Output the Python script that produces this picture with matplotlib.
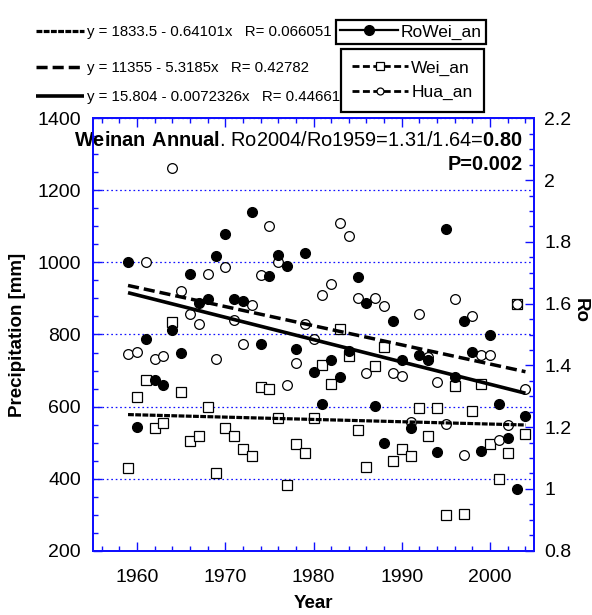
import matplotlib
matplotlib.use('Agg')
import matplotlib.pyplot as plt
from matplotlib.lines import Line2D
from matplotlib.ticker import MultipleLocator, FuncFormatter
import numpy as np

plt.rcParams['font.family'] = ['Liberation Sans', 'DejaVu Sans']
plt.rcParams['mathtext.fontset'] = 'custom'
plt.rcParams['mathtext.rm'] = 'Liberation Sans'
plt.rcParams['mathtext.bf'] = 'Liberation Sans:bold'
plt.rcParams['lines.scale_dashes'] = False

# ---------------- data ----------------
years = list(range(1959, 2005))
hua_an = [747, 752, 1000, 731, 740, 1263, 921, 856, 830, 969,
          732, 988, 840, 775, 882, 964, 1100, 1001, 659, 722,
          830, 787, 910, 940, 1110, 1073, 902, 693, 902, 880,
          692, 684, 556, 856, 738, 667, 553, 898, 465, 851,
          744, 744, 508, 548, 885, 648]
wei_an = [430, 626, 673, 541, 554, 835, 640, 505, 518, 599,
          416, 541, 519, 481, 463, 655, 649, 569, 383, 496,
          471, 569, 714, 662, 815, 740, 534, 432, 712, 766,
          449, 483, 464, 596, 519, 596, 300, 658, 301, 588,
          662, 496, 399, 471, 885, 523]
ro_wei_an = [1.735, 1.201, 1.486, 1.352, 1.336, 1.514, 1.439, 1.697, 1.603, 1.615,
             1.755, 1.824, 1.615, 1.610, 1.898, 1.469, 1.691, 1.757, 1.723, 1.453,
             1.763, 1.378, 1.275, 1.417, 1.363, 1.447, 1.687, 1.601, 1.268, 1.150,
             1.545, 1.417, 1.196, 1.433, 1.419, 1.119, 1.840, 1.363, 1.545, 1.444,
             1.123, 1.500, 1.275, 1.166, 1.000, 1.237]

# regression fits: intercept, slope, R (as printed)
fit_wei = ("1833.5", "0.64101", "0.066051")
fit_hua = ("11355", "5.3185", "0.42782")
fit_ro = ("15.804", "0.0072326", "0.44661")
fit_span = [1959, 2004]

left_ticks = [200, 400, 600, 800, 1000, 1200, 1400]
right_ticks = [0.8, 1.0, 1.2, 1.4, 1.6, 1.8, 2.0, 2.2]
x_ticks = [1960, 1970, 1980, 1990, 2000]

# ---------------- figure ----------------
W, H = 592, 615
fig = plt.figure(figsize=(W / 100, H / 100), dpi=100)


def fx(px):
    return px / W


def fy(py):
    return 1 - py / H


L, R, T, B = 92.7, 534.3, 118.3, 550.7
ax = fig.add_axes([fx(L), fy(B), fx(R) - fx(L), fy(T) - fy(B)])
ax2 = ax.twinx()

BLUE = '#1010ff'

# styles
wei_style = dict(color='black', lw=2.3, dashes=(4.2, 1.0), solid_capstyle='butt', dash_capstyle='butt')
hua_style = dict(color='black', lw=2.5, dashes=(8.0, 3.6), dash_capstyle='butt')
ro_style = dict(color='black', lw=2.6, solid_capstyle='butt')


def fit_line(fit, xs):
    a, b = float(fit[0]), -float(fit[1])
    xs = np.asarray(xs, dtype=float)
    return xs, a + b * xs


# data markers
ax.plot(years, wei_an, linestyle='none', marker='s', markersize=7.0,
        markerfacecolor='white', markeredgecolor='black', markeredgewidth=0.9, zorder=3)
ax.plot(years, hua_an, linestyle='none', marker='o', markersize=7.0,
        markerfacecolor='white', markeredgecolor='black', markeredgewidth=0.9, zorder=4)

xw, yw = fit_line(fit_wei, fit_span)
ax.plot(xw, yw, zorder=5, **wei_style)
xh, yh = fit_line(fit_hua, fit_span)
ax.plot(xh, yh, zorder=5, **hua_style)

ax2.plot(years, ro_wei_an, linestyle='none', marker='o', markersize=7.0,
         markerfacecolor='black', markeredgecolor='black', zorder=4)
xr, yr = fit_line(fit_ro, fit_span)
ax2.plot(xr, yr, zorder=5, **ro_style)

# axes limits and ticks
ax.set_xlim(1955, 2005)
ax.set_ylim(200, 1400)
ax2.set_ylim(0.8, 2.2)
ax.set_xticks(x_ticks)
ax.xaxis.set_minor_locator(MultipleLocator(2))
ax.set_yticks(left_ticks)
ax.yaxis.set_minor_locator(MultipleLocator(50))
ax2.set_yticks(right_ticks)
ax2.yaxis.set_minor_locator(MultipleLocator(0.05))
ax2.yaxis.set_major_formatter(FuncFormatter(lambda v, p: f"{v:g}"))

ax.tick_params(axis='x', which='both', direction='in', top=True, bottom=True,
               color=BLUE, labelcolor='black', labelsize=14, pad=13.5)
ax.tick_params(axis='y', which='both', direction='in', left=True, right=False,
               color=BLUE, labelcolor='black', labelsize=14, pad=8.4)
ax2.tick_params(axis='y', which='both', direction='in', left=False, right=True,
                color=BLUE, labelcolor='black', labelsize=14, pad=7.2)
for a in (ax, ax2):
    a.tick_params(which='major', length=6.5, width=1.0)
    a.tick_params(which='minor', length=3.6, width=1.0)
    for s in a.spines.values():
        s.set_color(BLUE)
        s.set_linewidth(1.4)

ax.yaxis.grid(True, which='major', color=BLUE, linestyle=(0, (1.2, 2.0)), linewidth=0.9)
ax.set_axisbelow(True)

ax.set_ylabel('Precipitation [mm]', fontsize=13.5, fontweight='bold', va='center')
ax.yaxis.set_label_coords((18 - L) / (R - L), 0.5)
ax.set_xlabel('Year', fontsize=13.5, fontweight='bold', va='center')
ax.xaxis.set_label_coords(0.5, (B - 603) / (B - T))
ax2.set_ylabel('Ro', fontsize=13.5, fontweight='bold', rotation=270, va='center')
ax2.yaxis.set_label_coords((580 - L) / (R - L), (B - 310) / (B - T))

# annotation
ax.text((523 - L) / (R - L), (B - 141) / (B - T),
        r"$\mathbf{Weinan\ Annual}$. Ro2004/Ro1959=1.31/1.64=$\mathbf{0.80}$",
        transform=ax.transAxes, ha='right', va='center', fontsize=14.4, zorder=10)
ax.text((523 - L) / (R - L), (B - 164) / (B - T), "P=0.002",
        transform=ax.transAxes, ha='right', va='center', fontsize=14.4,
        fontweight='bold', zorder=10)

# legends: regression equations
eq_fs = 10.8
for fit, style, ypx in ((fit_wei, wei_style, 32), (fit_hua, hua_style, 68), (fit_ro, ro_style, 97)):
    lbl = f"y = {fit[0]} - {fit[1]}x   R= {fit[2]}"
    h = Line2D([], [], **style)
    fig.legend(handles=[h], labels=[lbl], loc='center left',
               bbox_to_anchor=(fx(36), fy(ypx)), frameon=False, fontsize=eq_fs,
               borderpad=0, borderaxespad=0, handlelength=3.2, handletextpad=0.2)

leg_fs = 12.5
h_ro = Line2D([], [], color='black', lw=1.6, marker='o', markersize=7,
              markerfacecolor='black', markeredgecolor='black')
lg1 = fig.legend(handles=[h_ro], labels=['RoWei_an'], loc='upper left',
                 bbox_to_anchor=(fx(336), fy(20)), frameon=True, fancybox=False,
                 edgecolor='black', framealpha=1, fontsize=leg_fs, borderpad=0.25,
                 borderaxespad=0, handlelength=3.3, handletextpad=0.2)
lg1.get_frame().set_linewidth(1.6)

h_wei = Line2D([], [], color='black', lw=2.0, dashes=(5, 2.5), marker='s', markersize=5.5,
               markerfacecolor='white', markeredgecolor='black', markeredgewidth=0.9)
h_hua = Line2D([], [], color='black', lw=2.0, dashes=(5, 2.5), marker='o', markersize=5.0,
               markerfacecolor='white', markeredgecolor='black', markeredgewidth=0.9)
lg2 = fig.legend(handles=[h_wei, h_hua], labels=['Wei_an', 'Hua_an'], loc='upper left',
                 bbox_to_anchor=(fx(341), fy(49)), frameon=True, fancybox=False,
                 edgecolor='black', framealpha=1, fontsize=leg_fs, borderpad=0.65,
                 borderaxespad=0, handlelength=3.2, handletextpad=0.2, labelspacing=0.55)
lg2.get_frame().set_linewidth(1.6)

fig.savefig('out.png', dpi=100)
